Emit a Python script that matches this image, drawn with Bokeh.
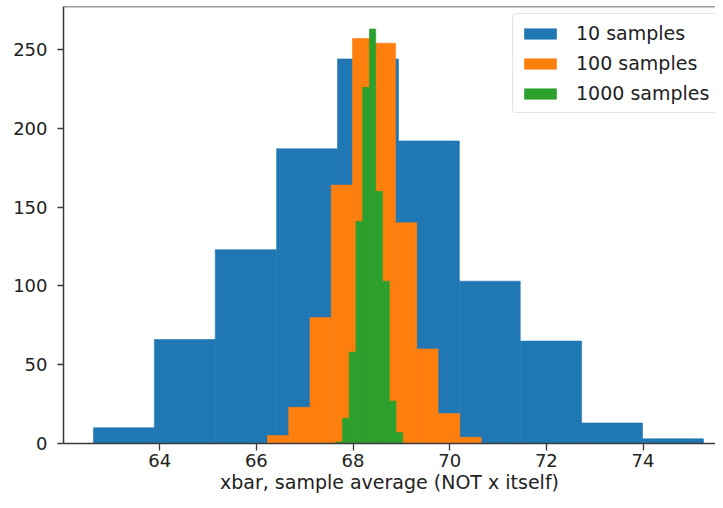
from bokeh.plotting import figure
from bokeh.models import Range1d, FixedTicker, Span, Legend
from bokeh.embed import file_html
from bokeh.resources import INLINE

# Histogram bin edges and counts
edges_10 = [62.63, 63.89, 65.15, 66.42, 67.68, 68.94, 70.20, 71.46, 72.73, 73.99, 75.25]
counts_10 = [10, 66, 123, 187, 244, 192, 103, 65, 13, 3]

edges_100 = [66.23, 66.67, 67.11, 67.55, 67.99, 68.44, 68.88, 69.32, 69.76, 70.21, 70.65]
counts_100 = [5, 23, 80, 164, 257, 254, 140, 60, 19, 4]

edges_1000 = [67.64, 67.78, 67.92, 68.06, 68.20, 68.34, 68.47, 68.61, 68.75, 68.89, 69.03]
counts_1000 = [1, 16, 58, 141, 226, 263, 160, 103, 27, 7]

labels = ["10 samples", "100 samples", "1000 samples"]
colors = ["#1f77b4", "#ff7f0e", "#2ca02c"]

x_ticks = [64, 66, 68, 70, 72, 74]
y_ticks = [0, 50, 100, 150, 200, 250]
x_label = "xbar, sample average (NOT x itself)"

FONT = "DejaVu Sans"
SPINE = "#3a3a3a"
Y_MAX = 277.3

p = figure(width=715, height=500, output_backend="svg", toolbar_location=None,
           x_range=Range1d(62.01, 75.5), y_range=Range1d(0, Y_MAX),
           min_border_left=63, min_border_right=0, min_border_top=6,
           min_border_bottom=57)

p.outline_line_color = None
p.xgrid.visible = False
p.ygrid.visible = False
p.background_fill_color = "white"
p.border_fill_color = "white"

for edges, counts, lab, col in zip([edges_10, edges_100, edges_1000],
                                   [counts_10, counts_100, counts_1000],
                                   labels, colors):
    p.quad(left=edges[:-1], right=edges[1:], bottom=0, top=counts,
           fill_color=col, line_color=col, line_width=0.6, legend_label=lab)

# top spine
p.add_layout(Span(location=Y_MAX, dimension="width", line_color=SPINE, line_width=1.5))

for ax in (p.xaxis[0], p.yaxis[0]):
    ax.axis_line_color = SPINE
    ax.axis_line_width = 1.5
    ax.major_tick_line_color = SPINE
    ax.major_tick_line_width = 1.3
    ax.major_tick_in = 0
    ax.minor_tick_line_color = None
    ax.major_label_text_font = FONT
    ax.major_label_text_font_size = "18px"
    ax.major_label_text_color = "#222222"

p.xaxis[0].ticker = FixedTicker(ticks=x_ticks)
p.yaxis[0].ticker = FixedTicker(ticks=y_ticks)
p.xaxis[0].major_tick_out = 7
p.yaxis[0].major_tick_out = 6
p.xaxis[0].major_label_standoff = 3
p.yaxis[0].major_label_standoff = 10

p.xaxis[0].axis_label = x_label
p.xaxis[0].axis_label_text_font = FONT
p.xaxis[0].axis_label_text_font_size = "19px"
p.xaxis[0].axis_label_text_font_style = "normal"
p.xaxis[0].axis_label_text_color = "#222222"
p.xaxis[0].axis_label_standoff = 1

lg = p.legend[0]
lg.location = (449, 330)
lg.glyph_width = 40
lg.glyph_height = 13
lg.label_height = 24
lg.label_width = 150
lg.spacing = 6
lg.padding = 7
lg.margin = 0
lg.label_standoff = 16
lg.label_text_font = FONT
lg.label_text_font_size = "19px"
lg.label_text_color = "#222222"
lg.border_line_color = "#cccccc"
lg.border_line_width = 1
lg.background_fill_alpha = 0.8
if "border_radius" in Legend.properties():
    lg.border_radius = 4

open("out.html", "w").write(file_html(p, INLINE))
